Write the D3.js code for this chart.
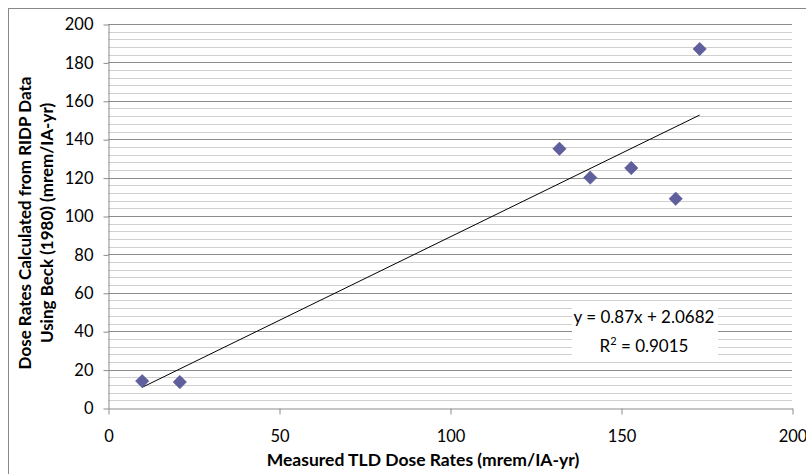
<!DOCTYPE html>
<html>
<head>
<meta charset="utf-8">
<script src="https://cdn.jsdelivr.net/npm/d3@7"></script>
<style>
  body { margin: 0; background: #fff; }
  text { font-family: Lato, "Open Sans", sans-serif; }
</style>
</head>
<body>
<div id="vis-container"></div>
<script>
// measured TLD vs calculated dose rates
let measured = [10, 21, 132, 141, 153, 166, 173];
let calculated = [14, 13.5, 135, 120, 125, 109, 187];
let xTicks = [0, 50, 100, 150, 200];
let yTicks = [0, 20, 40, 60, 80, 100, 120, 140, 160, 180, 200];
let slope = 0.87;
let intercept = 2.0682;
let eqText = "y = 0.87x + 2.0682";
let r2Value = "0.9015";

let w = 806;
let h = 474;

let svg = d3.select("#vis-container")
  .append("svg")
  .attr("width", w)
  .attr("height", h);

// outer chart border
svg.append("rect")
  .attr("x", 8.5).attr("y", 8.5)
  .attr("width", w).attr("height", h)
  .attr("fill", "none")
  .attr("stroke", "#888");

let x = d3.scaleLinear().domain([0, 200]).range([108, 792]);
let y = d3.scaleLinear().domain([0, 200]).range([408, 24]);

// minor gridlines
let minor = d3.range(4, 200, 4).filter(d => d % 20 != 0);
svg.selectAll("line.minor")
  .data(minor)
  .enter()
  .append("line")
  .attr("x1", x(0)).attr("x2", x(200))
  .attr("y1", d => Math.round(y(d)) + 0.5)
  .attr("y2", d => Math.round(y(d)) + 0.5)
  .attr("stroke", "#d0d0d0");

// major gridlines
svg.selectAll("line.major")
  .data(yTicks.slice(1))
  .enter()
  .append("line")
  .attr("x1", x(0)).attr("x2", x(200))
  .attr("y1", d => Math.round(y(d)) + 0.5)
  .attr("y2", d => Math.round(y(d)) + 0.5)
  .attr("stroke", "#8c8c8c");

// axes
let yAxis = svg.append("g")
  .attr("transform", "translate(" + (x(0) + 0.5) + ",0.5)")
  .call(d3.axisLeft(y).tickValues(yTicks).tickSize(5).tickPadding(10).tickSizeOuter(0));
let xAxis = svg.append("g")
  .attr("transform", "translate(0.5," + (y(0) + 0.5) + ")")
  .call(d3.axisBottom(x).tickValues(xTicks).tickSize(6).tickPadding(16).tickSizeOuter(0));

for (let ax of [xAxis, yAxis]) {
  ax.select(".domain").attr("stroke", "#8c8c8c");
  ax.selectAll(".tick line").attr("stroke", "#8c8c8c");
  ax.selectAll("text")
    .attr("font-family", "Lato, sans-serif")
    .attr("font-size", 16.5)
    .attr("fill", "#000");
}

// trend line
let xs = d3.extent(measured);
svg.append("line")
  .attr("x1", x(xs[0])).attr("y1", y(slope * xs[0] + intercept))
  .attr("x2", x(xs[1])).attr("y2", y(slope * xs[1] + intercept))
  .attr("stroke", "#000")
  .attr("stroke-width", 1);

// markers
let sym = d3.symbol().type(d3.symbolDiamond2).size(115);
svg.selectAll("path.pt")
  .data(measured)
  .enter()
  .append("path")
  .attr("class", "pt")
  .attr("d", sym)
  .attr("transform", (d, i) => "translate(" + x(d) + "," + y(calculated[i]) + ")")
  .attr("fill", "#5f5f9e")
  .attr("stroke", "#4f4f8a")
  .attr("stroke-width", 0.5);

// equation box
svg.append("rect")
  .attr("x", 572).attr("y", 303)
  .attr("width", 146).attr("height", 56)
  .attr("fill", "#fff");
svg.append("text")
  .attr("x", 644).attr("y", 323)
  .attr("text-anchor", "middle")
  .attr("font-size", 17)
  .text(eqText);
let r2 = svg.append("text")
  .attr("x", 644).attr("y", 352)
  .attr("text-anchor", "middle")
  .attr("font-size", 17);
r2.append("tspan").text("R");
r2.append("tspan").attr("dy", -7).attr("font-size", 11).text("2");
r2.append("tspan").attr("dy", 7).text(" = " + r2Value);

// axis titles
svg.append("text")
  .attr("x", 423).attr("y", 466)
  .attr("text-anchor", "middle")
  .attr("font-size", 17.5)
  .attr("font-weight", "bold")
  .text("Measured TLD Dose Rates (mrem/IA-yr)");

let yt = svg.append("text")
  .attr("transform", "translate(31,223) rotate(-90)")
  .attr("text-anchor", "middle")
  .attr("font-size", 17)
  .attr("font-weight", "bold");
yt.append("tspan").attr("x", 0).attr("dy", 0).text("Dose Rates Calculated from RIDP Data");
yt.append("tspan").attr("x", 0).attr("dy", 22).text("Using Beck (1980) (mrem/IA-yr)");
</script>
</body>
</html>
